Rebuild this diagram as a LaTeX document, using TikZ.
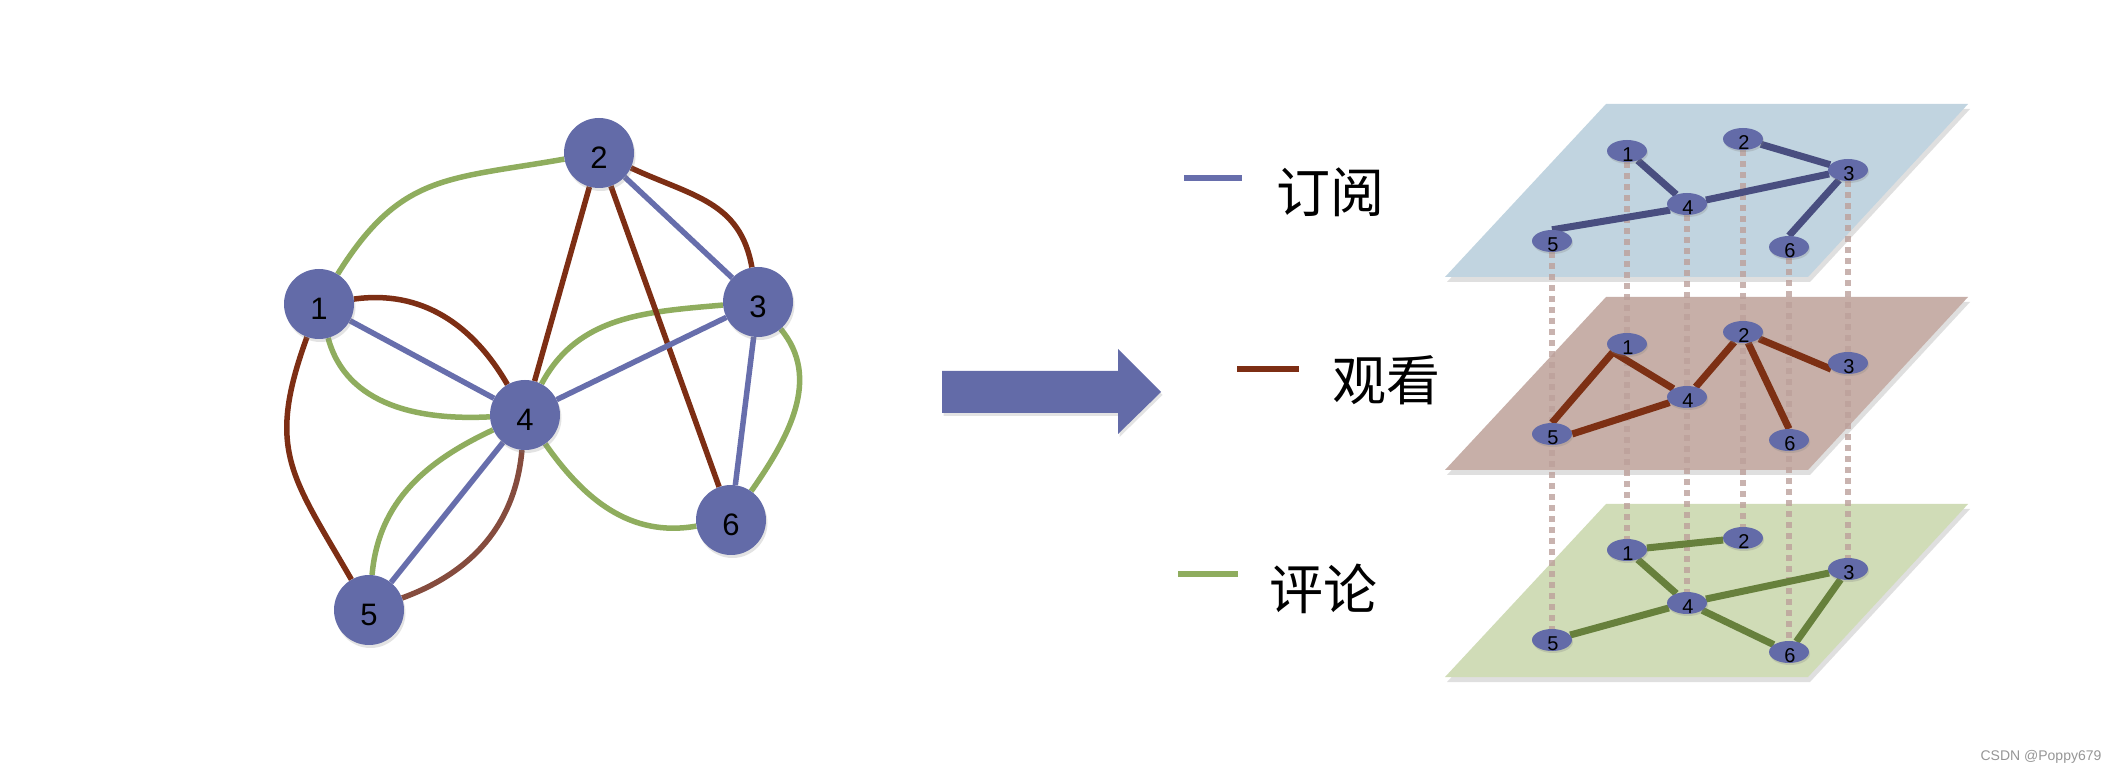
\documentclass[tikz,border=0pt]{standalone}
\usepackage{fontspec}
\setmainfont{Liberation Sans}
\newfontfamily\cjk{Noto Sans CJK SC}
\usetikzlibrary{shapes.geometric,shadows}
\definecolor{nodefill}{RGB}{99,107,168}
\definecolor{eblue}{RGB}{103,110,172}
\definecolor{ebrown}{RGB}{125,46,20}
\definecolor{ebrowntwo}{RGB}{133,76,62}
\definecolor{egreen}{RGB}{143,173,94}
\definecolor{planeblue}{RGB}{193,212,224}
\definecolor{planebrown}{RGB}{199,175,168}
\definecolor{planegreen}{RGB}{208,220,183}
\definecolor{lblue}{RGB}{73,78,128}
\definecolor{lbrown}{RGB}{125,48,20}
\definecolor{lgreen}{RGB}{103,128,60}
\definecolor{dashcol}{RGB}{188,160,155}
\definecolor{wmark}{RGB}{150,150,150}
\pgfdeclarelayer{paper}
\pgfdeclarelayer{planes}
\pgfdeclarelayer{edges}
\pgfdeclarelayer{dashes}
\pgfsetlayers{paper,planes,dashes,edges,main}
\tikzset{
  softshadow/.style={drop shadow={shadow xshift=1.5pt, shadow yshift=-3pt, opacity=0.22}},
  bignode/.style={circle, fill=nodefill, minimum size=70pt, inner sep=0pt,
    font=\fontsize{31}{31}\selectfont, text height=32pt, text depth=0pt, softshadow},
  gedge/.style={line width=5.5pt},
  lnode/.style={ellipse, fill=nodefill, minimum width=40pt, minimum height=22pt, inner sep=0pt,
    drop shadow={shadow xshift=1pt, shadow yshift=-2pt, opacity=0.25}},
  lbl/.style={font=\fontsize{20}{20}\selectfont, inner sep=0pt, yshift=-4pt, xshift=1pt},
  ledge/.style={line width=7pt},
  plane/.style={drop shadow={shadow xshift=2pt, shadow yshift=-5pt, opacity=0.25}},
  vdash/.style={draw=dashcol, line width=5.5pt, dash pattern=on 6pt off 5pt, opacity=0.8},
  legline/.style={line width=6pt},
  legtext/.style={font=\cjk\fontsize{54}{54}\selectfont, inner sep=0pt},
}
\begin{document}
\begin{tikzpicture}[x=1pt,y=1pt]
\useasboundingbox (0,0) rectangle (2112,774);
\begin{pgfonlayer}{paper}
  \fill[white] (0,0) rectangle (2112,774);
\end{pgfonlayer}

% ---------- left graph ----------
\node[bignode] (n1) at (319,470) {1};
\node[bignode] (n2) at (599,621) {2};
\node[bignode] (n3) at (758,472) {3};
\node[bignode] (n4) at (525,359) {4};
\node[bignode] (n5) at (369,164) {5};
\node[bignode] (n6) at (731,254) {6};

\begin{pgfonlayer}{edges}
  % green (comment)
  \draw[gedge, egreen] (n1) to[out=58,in=190,looseness=1.2] (n2);
  \draw[gedge, egreen] (n1) to[out=-75,in=183] (n4);
  \draw[gedge, egreen] (n4) to[out=62,in=185] (n3);
  \draw[gedge, egreen] (n4) to[out=205,in=85] (n5);
  \draw[gedge, egreen] (n4) to[out=-55,in=190] (n6);
  \draw[gedge, egreen] (n3) to[out=-50,in=55] (n6);
  % brown (watch)
  \draw[gedge, ebrown] (n1) to[out=8,in=120] (n4);
  \draw[gedge, ebrown] (n1) to[out=250,in=120,looseness=1.25] (n5);
  \draw[gedge, ebrown] (n2) to[out=-25,in=100,looseness=1.1] (n3);
  \draw[gedge, ebrown] (n2) -- (n4);
  \draw[gedge, ebrown] (n2) -- (n6);
  \draw[gedge, ebrowntwo] (n4) to[out=-95,in=20] (n5);
  % blue (subscribe)
  \draw[gedge, eblue] (n1) -- (n4);
  \draw[gedge, eblue] (n2) -- (n3);
  \draw[gedge, eblue] (n3) -- (n4);
  \draw[gedge, eblue] (n3) -- (n6);
  \draw[gedge, eblue] (n4) -- (n5);
\end{pgfonlayer}

% ---------- big arrow ----------
\fill[nodefill, softshadow] (942,361) -- (1118,361) -- (1118,340) -- (1161,382)
  -- (1118,425) -- (1118,403) -- (942,403) -- cycle;

% ---------- legend ----------
\draw[legline, eblue] (1184,596) -- (1242,596);
\node[legtext] (lt1) at (1330,582) {订阅};
\draw[legline, ebrown] (1237,405) -- (1299,405);
\node[legtext] (lt2) at (1386,394) {观看};
\draw[legline, egreen] (1178,200) -- (1238,200);
\node[legtext] (lt3) at (1323,185) {评论};

% ---------- planes ----------
\begin{pgfonlayer}{planes}
  \fill[planeblue, plane] (1445,497) -- (1808,497) -- (1968,670) -- (1606,670) -- cycle;
  \fill[planebrown, plane] (1445,304) -- (1808,304) -- (1968,477) -- (1606,477) -- cycle;
  \fill[planegreen, plane] (1445,97) -- (1808,97) -- (1968,270) -- (1606,270) -- cycle;
\end{pgfonlayer}

% top layer nodes
\node[lnode, label={[lbl]center:1}] (t1) at (1627,623) {};
\node[lnode, label={[lbl]center:2}] (t2) at (1743,635) {};
\node[lnode, label={[lbl]center:3}] (t3) at (1848,604) {};
\node[lnode, label={[lbl]center:4}] (t4) at (1687,570) {};
\node[lnode, label={[lbl]center:5}] (t5) at (1552,533) {};
\node[lnode, label={[lbl]center:6}] (t6) at (1789,527) {};
% middle layer nodes
\node[lnode, label={[lbl]center:1}] (m1) at (1627,430) {};
\node[lnode, label={[lbl]center:2}] (m2) at (1743,442) {};
\node[lnode, label={[lbl]center:3}] (m3) at (1848,411) {};
\node[lnode, label={[lbl]center:4}] (m4) at (1687,377) {};
\node[lnode, label={[lbl]center:5}] (m5) at (1552,340) {};
\node[lnode, label={[lbl]center:6}] (m6) at (1789,334) {};
% bottom layer nodes
\node[lnode, label={[lbl]center:1}] (b1) at (1627,224) {};
\node[lnode, label={[lbl]center:2}] (b2) at (1743,236) {};
\node[lnode, label={[lbl]center:3}] (b3) at (1848,205) {};
\node[lnode, label={[lbl]center:4}] (b4) at (1687,171) {};
\node[lnode, label={[lbl]center:5}] (b5) at (1552,134) {};
\node[lnode, label={[lbl]center:6}] (b6) at (1789,122) {};

\begin{pgfonlayer}{edges}
  % top: subscribe
  \draw[ledge, lblue] (t1) -- (t4);
  \draw[ledge, lblue] (t4) -- (t3);
  \draw[ledge, lblue] (t5.north) -- (t4.200);
  \draw[ledge, lblue] (t2) -- (t3);
  \draw[ledge, lblue] (t3) -- (t6.north);
  % middle: watch
  \draw[ledge, lbrown] (m1.210) -- (m5.north);
  \draw[ledge, lbrown] (m1.210) -- (m4);
  \draw[ledge, lbrown] (m5.east) -- (m4);
  \draw[ledge, lbrown] (m4) -- (m2);
  \draw[ledge, lbrown] (m2) -- (m3.200);
  \draw[ledge, lbrown] (m2) -- (m6.north);
  % bottom: comment
  \draw[ledge, lgreen] (b1) -- (b2);
  \draw[ledge, lgreen] (b1) -- (b4);
  \draw[ledge, lgreen] (b4) -- (b3);
  \draw[ledge, lgreen] (b4) -- (b5);
  \draw[ledge, lgreen] (b4) -- (b6);
  \draw[ledge, lgreen] (b3) -- (b6);
\end{pgfonlayer}

\begin{pgfonlayer}{dashes}
  \draw[vdash] (t1) -- (b1);
  \draw[vdash] (t2) -- (b2);
  \draw[vdash] (t3) -- (b3);
  \draw[vdash] (t4) -- (b4);
  \draw[vdash] (t5) -- (b5);
  \draw[vdash] (t6) -- (b6);
\end{pgfonlayer}

% watermark
\node[font=\fontsize{14}{14}\selectfont, text=wmark, inner sep=0pt] (wm) at (2041,17) {CSDN @Poppy679};
\end{tikzpicture}
\end{document}
